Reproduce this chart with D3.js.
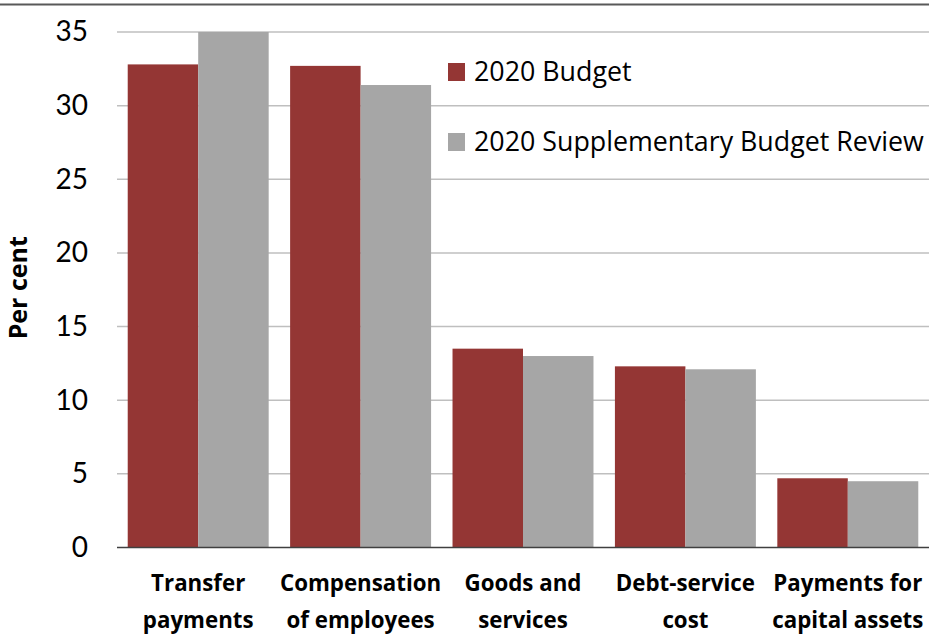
<!DOCTYPE html>
<html>
<head>
<meta charset="utf-8">
<script src="https://cdn.jsdelivr.net/npm/d3@7"></script>
<style>
  html, body { margin: 0; padding: 0; background: #fff; }
  svg { display: block; font-family: "Open Sans", Lato, sans-serif; }
</style>
</head>
<body>
<svg id="chart" width="929" height="643"></svg>
<script>
const categories = [
  ["Transfer", "payments"],
  ["Compensation", "of employees"],
  ["Goods and", "services"],
  ["Debt-service", "cost"],
  ["Payments for", "capital assets"]
];
const seriesNames = ["2020 Budget", "2020 Supplementary Budget Review"];
const budget2020 = [32.8, 32.7, 13.5, 12.3, 4.7];
const supplementary2020 = [35.0, 31.4, 13.0, 12.1, 4.5];
const yTicks = [0, 5, 10, 15, 20, 25, 30, 35];
const colors = ["#943634", "#a6a6a6"];

const svg = d3.select("#chart");
const W = 929, H = 643;
const margin = { left: 117, right: 0, top: 32, bottom: 95.5 };
const plotH = H - margin.top - margin.bottom;

const x0 = d3.scaleBand()
  .domain(d3.range(categories.length))
  .range([margin.left, W - margin.right])
  .paddingInner(0.132)
  .paddingOuter(0.066);
const x1 = d3.scaleBand().domain([0, 1]).range([0, x0.bandwidth()]);
const y = d3.scaleLinear().domain([0, 35]).range([margin.top + plotH, margin.top]);

// top border
svg.append("line").attr("x1", 0).attr("x2", W).attr("y1", 4.5).attr("y2", 4.5)
  .attr("stroke", "#595959").attr("stroke-width", 2);

// gridlines
svg.append("g").selectAll("line").data(yTicks.filter(d => d > 0)).join("line")
  .attr("x1", margin.left).attr("x2", W)
  .attr("y1", d => y(d)).attr("y2", d => y(d))
  .attr("stroke", "#bfbfbf").attr("stroke-width", 1.5);

// y axis labels
const yAxis = d3.axisLeft(y).tickValues(yTicks).tickSize(0).tickPadding(0).tickFormat(d3.format("d"));
const yg = svg.append("g").attr("transform", `translate(${margin.left - 29},0)`).call(yAxis);
yg.select(".domain").remove();
yg.selectAll("text").attr("font-size", 28).attr("fill", "#000").attr("font-family", "Lato, sans-serif");

// bars
const data = [budget2020, supplementary2020];
const groups = svg.append("g").selectAll("g").data(categories).join("g")
  .attr("transform", (d, i) => `translate(${x0(i)},0)`);
groups.selectAll("rect").data((d, i) => data.map((s, k) => ({ k, v: s[i] }))).join("rect")
  .attr("x", d => x1(d.k))
  .attr("width", x1.bandwidth())
  .attr("y", d => y(d.v))
  .attr("height", d => y(0) - y(d.v))
  .attr("fill", d => colors[d.k]);

// baseline
svg.append("line").attr("x1", margin.left).attr("x2", W).attr("y1", y(0)).attr("y2", y(0))
  .attr("stroke", "#404040").attr("stroke-width", 1.5);

// category labels
const cl = svg.append("g").selectAll("text").data(categories).join("text")
  .attr("x", (d, i) => x0(i) + x0.bandwidth() / 2)
  .attr("text-anchor", "middle")
  .attr("font-weight", "bold").attr("font-size", 22.3).attr("fill", "#000");
cl.append("tspan").attr("x", (d, i) => x0(i) + x0.bandwidth() / 2).attr("y", 591).text(d => d[0]);
cl.append("tspan").attr("x", (d, i) => x0(i) + x0.bandwidth() / 2).attr("y", 628).text(d => d[1]);

// y axis title
svg.append("text")
  .attr("transform", `translate(27,${margin.top + plotH / 2 - 2}) rotate(-90)`)
  .attr("text-anchor", "middle")
  .attr("font-weight", "bold").attr("font-size", 25).attr("fill", "#000")
  .text("Per cent");

// legend
const lg = svg.append("g").selectAll("g").data(seriesNames).join("g")
  .attr("transform", (d, i) => `translate(448,${63 + i * 70})`);
lg.append("rect").attr("width", 17).attr("height", 18).attr("fill", (d, i) => colors[i]);
lg.append("text").attr("x", 26).attr("y", 18).attr("font-size", 26.8).attr("fill", "#000").text(d => d);
</script>
</body>
</html>
